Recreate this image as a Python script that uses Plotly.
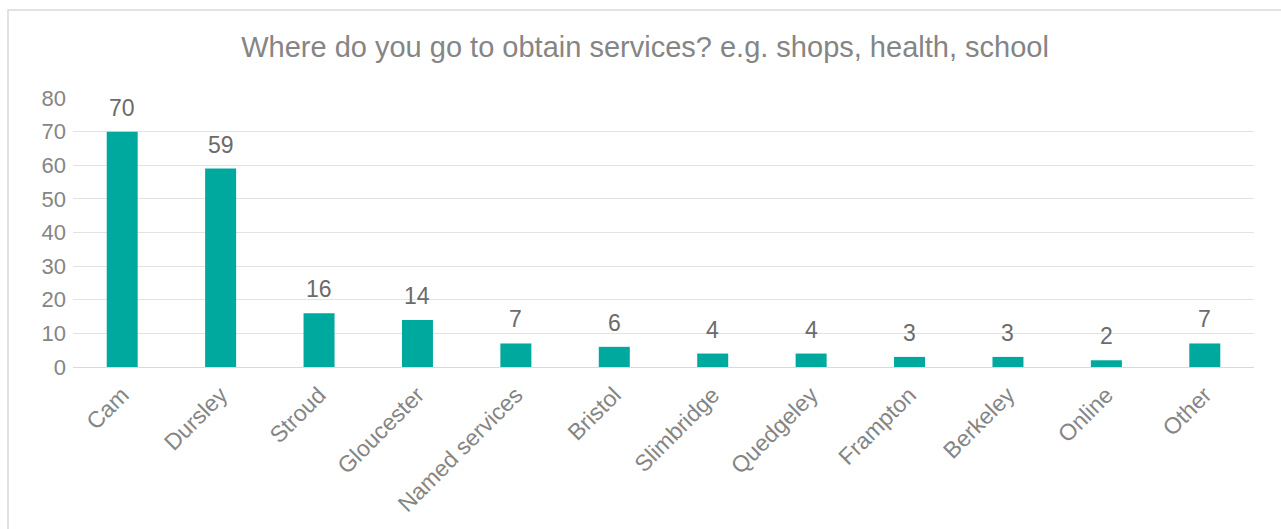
import plotly.graph_objects as go

categories = ["Cam", "Dursley", "Stroud", "Gloucester", "Named services", "Bristol",
              "Slimbridge", "Quedgeley", "Frampton", "Berkeley", "Online", "Other"]
values = [70, 59, 16, 14, 7, 6, 4, 4, 3, 3, 2, 7]

W, H = 1281, 529
L, R, T, B = 73, 27, 98, 162
pw, ph = W - L - R, H - T - B
FONT = "Liberation Sans, Arial"

def px_x(x):
    return (x - L) / pw

def px_y(y):
    return (H - B - y) / ph

fig = go.Figure(go.Bar(
    x=categories, y=values, width=0.315,
    marker=dict(color="#00A99D", line=dict(width=0)),
    hoverinfo="x+y",
))

for c, v in zip(categories, values):
    fig.add_annotation(x=c, y=v, text=str(v), showarrow=False,
                       yanchor="bottom", yshift=9,
                       font=dict(family=FONT, size=23, color="#6b6b6b"))

fig.update_layout(
    width=W, height=H,
    margin=dict(l=L, r=R, t=T, b=B),
    paper_bgcolor="white", plot_bgcolor="white",
    title=dict(text="Where do you go to obtain services? e.g. shops, health, school",
               x=(237 + 1053) / 2 / W, xref="container", y=1 - 47 / H, yref="container",
               xanchor="center", yanchor="middle",
               font=dict(family=FONT, size=29, color="#858585")),
    showlegend=False,
    bargap=0.685,
    xaxis=dict(tickangle=-45, showgrid=False, showline=False, ticks="",
               ticklabelstandoff=9,
               tickfont=dict(family=FONT, size=23, color="#858585")),
    yaxis=dict(range=[0, 80], dtick=10, showgrid=True, gridcolor="#e3e3e3", gridwidth=1.3,
               zeroline=True, zerolinecolor="#d9d9d9", zerolinewidth=1.3, showline=False,
               ticks="", ticklabelstandoff=6,
               tickfont=dict(family=FONT, size=22, color="#858585")),
)

fig.add_shape(type="rect", xref="paper", yref="paper",
              x0=px_x(8), x1=px_x(1300), y0=px_y(545), y1=px_y(10),
              line=dict(color="#d9d9d9", width=1.5), fillcolor="rgba(0,0,0,0)", layer="below")

fig.write_html("out.html")
